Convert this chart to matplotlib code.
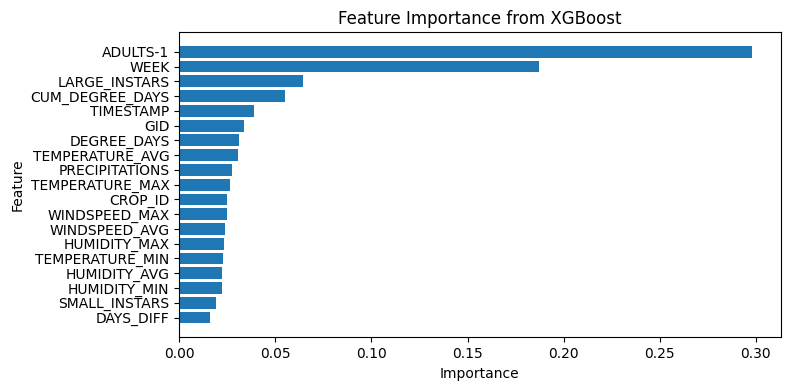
import matplotlib
matplotlib.use('Agg')
import matplotlib.pyplot as plt

features = ['ADULTS-1', 'WEEK', 'LARGE_INSTARS', 'CUM_DEGREE_DAYS', 'TIMESTAMP', 'GID',
            'DEGREE_DAYS', 'TEMPERATURE_AVG', 'PRECIPITATIONS', 'TEMPERATURE_MAX', 'CROP_ID',
            'WINDSPEED_MAX', 'WINDSPEED_AVG', 'HUMIDITY_MAX', 'TEMPERATURE_MIN', 'HUMIDITY_AVG',
            'HUMIDITY_MIN', 'SMALL_INSTARS', 'DAYS_DIFF']
importance = [0.298, 0.187, 0.0643, 0.0550, 0.0387, 0.0334,
              0.0308, 0.0303, 0.0272, 0.0262, 0.0247,
              0.0246, 0.0236, 0.0230, 0.0225, 0.0221,
              0.0220, 0.0189, 0.0158]

fig = plt.figure(figsize=(7.9, 3.9), dpi=100)
plt.barh(features[::-1], importance[::-1])
plt.title('Feature Importance from XGBoost')
plt.xlabel('Importance')
plt.ylabel('Feature')
plt.subplots_adjust(left=0.227, right=0.988, top=0.918, bottom=0.135)
plt.savefig('out.png')
